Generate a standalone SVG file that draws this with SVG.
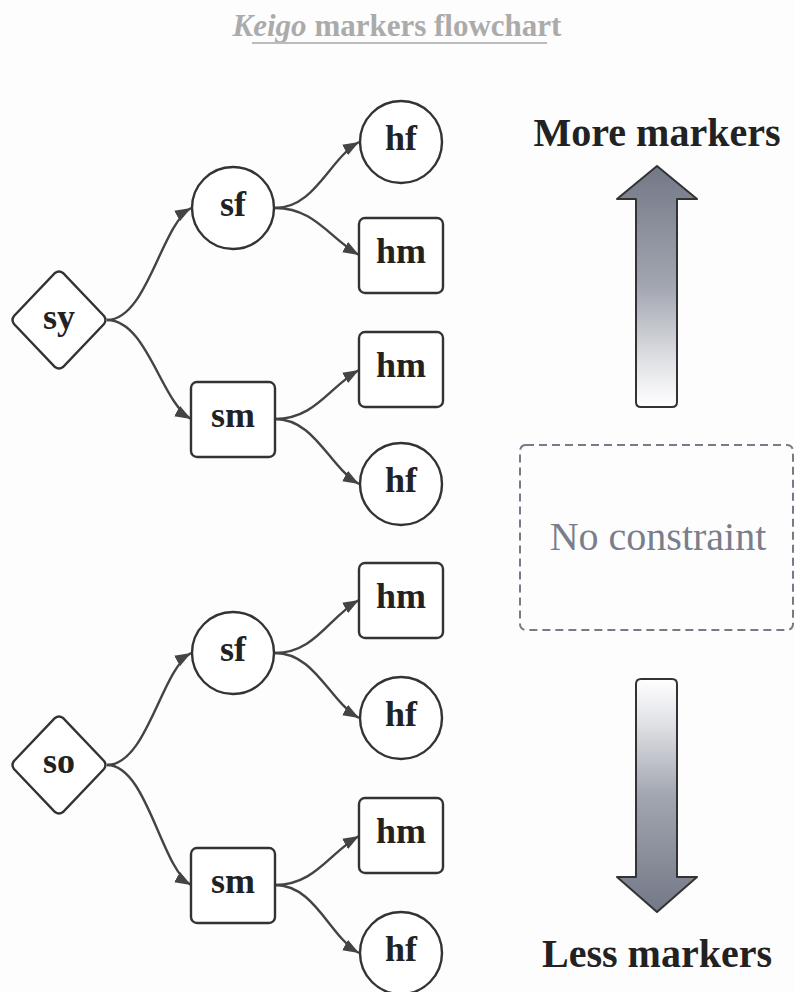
<svg xmlns="http://www.w3.org/2000/svg" width="795" height="992" viewBox="0 0 795 992">
<defs>
<style>
.nd{fill:#fff;stroke:#333;stroke-width:2.4}
.lb{font-family:"Liberation Serif",serif;font-weight:bold;font-size:36px;fill:#222;text-anchor:middle}
.ed{fill:none;stroke:#444;stroke-width:2.4;marker-end:url(#ah)}
.big{font-family:"Liberation Serif",serif;font-weight:bold;font-size:40px;fill:#222;text-anchor:middle}
</style>
<marker id="ah" markerUnits="userSpaceOnUse" markerWidth="17" markerHeight="12" refX="16" refY="6" orient="auto">
<path d="M0,0 L16,6 L0,12 Z" fill="#444"/>
</marker>
<linearGradient id="gUp" x1="0" y1="0" x2="0" y2="1">
<stop offset="0" stop-color="#737887"/>
<stop offset="0.5" stop-color="#a2a6b0"/>
<stop offset="0.82" stop-color="#e2e3e7"/>
<stop offset="1" stop-color="#fff"/>
</linearGradient>
<linearGradient id="gDn" x1="0" y1="0" x2="0" y2="1">
<stop offset="0" stop-color="#fff"/>
<stop offset="0.18" stop-color="#e2e3e7"/>
<stop offset="0.5" stop-color="#a2a6b0"/>
<stop offset="1" stop-color="#737887"/>
</linearGradient>
</defs>
<rect width="795" height="992" fill="#fdfdfd"/>

<g id="title">
<text x="397" y="36" text-anchor="middle" font-family="'Liberation Serif',serif" font-weight="bold" font-size="31" fill="#ababab"><tspan font-style="italic">Keigo</tspan> markers flowchart</text>
<line x1="252" y1="43" x2="547" y2="43" stroke="#bbb" stroke-width="2"/>
</g>

<g id="connectors">
<path class="ed" d="M107,320 C147,320 161,225 191,208"/>
<path class="ed" d="M107,320 C147,320 161,402 191,419"/>
<path class="ed" d="M275,208 C315,208 329,159 359,142"/>
<path class="ed" d="M275,208 C315,208 329,238 359,255"/>
<path class="ed" d="M275,419 C315,419 329,387 359,370"/>
<path class="ed" d="M275,419 C315,419 329,467 359,484"/>
<path class="ed" d="M107,765 C147,765 161,670 191,653"/>
<path class="ed" d="M107,765 C147,765 161,868 191,885"/>
<path class="ed" d="M275,653 C315,653 329,617 359,600"/>
<path class="ed" d="M275,653 C315,653 329,701 359,718"/>
<path class="ed" d="M275,885 C315,885 329,853 359,836"/>
<path class="ed" d="M275,885 C315,885 329,936 359,953"/>
</g>

<g id="sy"><path class="nd" d="M55,273 Q59,270 63,273 L104,316 Q107,320 104,324 L63,367 Q59,370 55,367 L14,324 Q11,320 14,316 Z"/><text class="lb" x="59" y="329">sy</text></g>
<g id="sf1"><circle class="nd" cx="233" cy="208" r="41"/><text class="lb" x="233" y="216">sf</text></g>
<g id="hf1"><circle class="nd" cx="401" cy="142" r="41"/><text class="lb" x="401" y="150">hf</text></g>
<g id="hm1"><rect class="nd" x="359" y="218" width="84" height="75" rx="6"/><text class="lb" x="401" y="263">hm</text></g>
<g id="hm2"><rect class="nd" x="359" y="332" width="84" height="75" rx="6"/><text class="lb" x="401" y="377">hm</text></g>
<g id="sm1"><rect class="nd" x="191" y="382" width="84" height="75" rx="6"/><text class="lb" x="233" y="427">sm</text></g>
<g id="hf2"><circle class="nd" cx="401" cy="484" r="41"/><text class="lb" x="401" y="492">hf</text></g>

<g id="so"><path class="nd" d="M55,718 Q59,715 63,718 L104,761 Q107,765 104,769 L63,812 Q59,815 55,812 L14,769 Q11,765 14,761 Z"/><text class="lb" x="59" y="773">so</text></g>
<g id="hm3"><rect class="nd" x="359" y="563" width="84" height="75" rx="6"/><text class="lb" x="401" y="608">hm</text></g>
<g id="sf2"><circle class="nd" cx="233" cy="653" r="41"/><text class="lb" x="233" y="661">sf</text></g>
<g id="hf3"><circle class="nd" cx="401" cy="718" r="41"/><text class="lb" x="401" y="726">hf</text></g>
<g id="hm4"><rect class="nd" x="359" y="798" width="84" height="75" rx="6"/><text class="lb" x="401" y="843">hm</text></g>
<g id="sm2"><rect class="nd" x="191" y="848" width="84" height="75" rx="6"/><text class="lb" x="233" y="893">sm</text></g>
<g id="hf4"><circle class="nd" cx="401" cy="953" r="41"/><text class="lb" x="401" y="961">hf</text></g>

<g id="more">
<text class="big" x="657" y="146">More markers</text>
<path d="M657,166 L697,199 L677,199 L677,402 Q677,407 672,407 L641,407 Q636,407 636,402 L636,199 L617,199 Z" fill="url(#gUp)" stroke="#333" stroke-width="2" stroke-linejoin="round"/>
</g>
<g id="none">
<rect x="520" y="445" width="273" height="185" rx="6" fill="none" stroke="#777b88" stroke-width="2" stroke-dasharray="8,5"/>
<text x="658" y="550" text-anchor="middle" font-family="'Liberation Serif',serif" font-size="40" fill="#7a7e8c">No constraint</text>
</g>
<g id="less">
<path d="M641,679 L672,679 Q677,679 677,684 L677,877 L697,877 L657,912 L617,877 L636,877 L636,684 Q636,679 641,679 Z" fill="url(#gDn)" stroke="#333" stroke-width="2" stroke-linejoin="round"/>
<text class="big" x="657" y="967">Less markers</text>
</g>
</svg>
